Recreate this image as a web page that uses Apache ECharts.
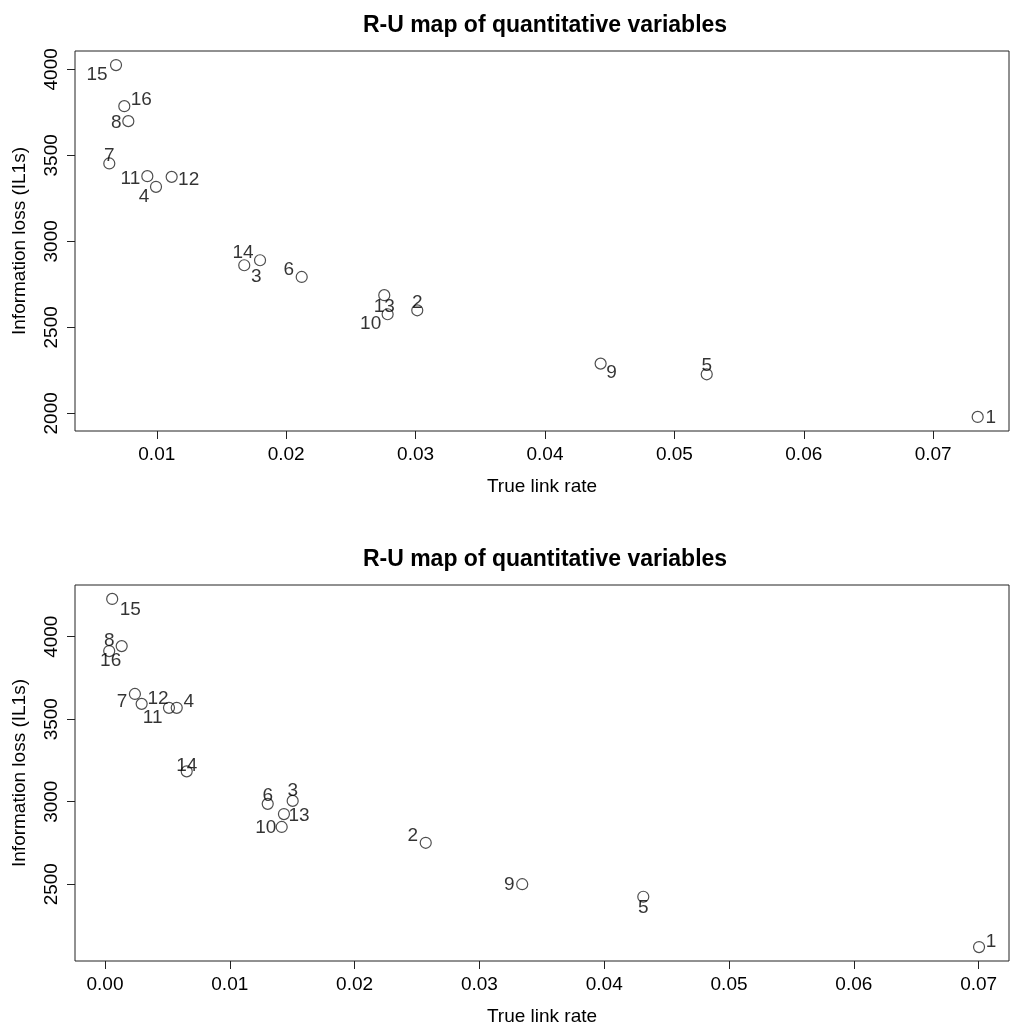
<!DOCTYPE html>
<html>
<head>
<meta charset="utf-8">
<script src="https://cdn.jsdelivr.net/npm/echarts@6/dist/echarts.min.js"></script>
<style>
  html, body { margin: 0; padding: 0; background: #ffffff; }
  #chart { width: 1010px; height: 1027px; }
</style>
</head>
<body>
<div id="chart"></div>
<script>
// Record identifiers (1..16), same order in both panels
const pointIds = ['1', '2', '3', '4', '5', '6', '7', '8', '9', '10', '11', '12', '13', '14', '15', '16'];

// Upper panel: true link rate and information loss per record
const upperRate = [0.07344, 0.03013, 0.01676, 0.00994, 0.05250, 0.02120, 0.00633, 0.00780,
                   0.04430, 0.02784, 0.00927, 0.01115, 0.02758, 0.01798, 0.00685, 0.00749];
const upperLoss = [1979, 2599, 2861, 3317, 2227, 2793, 3453, 3699,
                   2289, 2576, 3379, 3375, 2687, 2890, 4025, 3786];

// Lower panel
const lowerRate = [0.07003, 0.02570, 0.01504, 0.00575, 0.04313, 0.01304, 0.00240, 0.00034,
                   0.03343, 0.01416, 0.00294, 0.00513, 0.01434, 0.00655, 0.00058, 0.00134];
const lowerLoss = [2119, 2751, 3005, 3569, 2424, 2987, 3653, 3913,
                   2500, 2847, 3593, 3569, 2925, 3184, 4229, 3943];

// Tick values
const upperRateTicks = [0.01, 0.02, 0.03, 0.04, 0.05, 0.06, 0.07];
const upperLossTicks = [2000, 2500, 3000, 3500, 4000];
const lowerRateTicks = [0.00, 0.01, 0.02, 0.03, 0.04, 0.05, 0.06, 0.07];
const lowerLossTicks = [2500, 3000, 3500, 4000];

// Visible span of the rate axes (the plot frame runs to the page edge)
const upperRateSpan = [0.00368, 0.07586];
const lowerRateSpan = [-0.00240, 0.07243];

// Texts
const chartTitle = 'R-U map of quantitative variables';
const rateTitle = 'True link rate';
const lossTitle = 'Information loss (IL1s)';

// Where each point's number sits relative to its marker (px)
const upperLabelOffsets = {
  '1': [13, 1], '2': [0, -8], '3': [12, 12], '4': [-12, 10], '5': [0, -9], '6': [-13, -7],
  '7': [0, -8], '8': [-12, 2], '9': [11, 9], '10': [-17, 10], '11': [-17, 3], '12': [17, 3],
  '13': [0, 12], '14': [-17, -7], '15': [-19, 10], '16': [17, -6]
};
const lowerLabelOffsets = {
  '1': [12, -5], '2': [-13, -7], '3': [0, -10], '4': [12, -6], '5': [0, 11], '6': [0, -8],
  '7': [-13, 8], '8': [0, -10], '9': [-13, 1], '10': [-16, 1], '11': [11, 14], '12': [-11, -9],
  '13': [15, 2], '14': [0, -6], '15': [18, 11], '16': [-11, 15]
};

const FONT = '"Liberation Sans", Arial, Helvetica, sans-serif';
const INK = '#000';
const LINE = '#222';

// R-style axis limits: data range widened by 4% on each side
function padRange(values) {
  const lo = Math.min(...values), hi = Math.max(...values);
  const d = (hi - lo) * 0.04;
  return [lo - d, hi + d];
}

function makeXAxis(gridIndex, span, ticks) {
  return {
    type: 'value', gridIndex, min: span[0], max: span[1],
    axisLine: { show: false, onZero: false },
    splitLine: { show: false },
    axisTick: { show: true, inside: false, length: 8, customValues: ticks,
                lineStyle: { color: LINE, width: 1 } },
    axisLabel: { customValues: ticks, formatter: v => v.toFixed(2), fontSize: 19,
                 fontFamily: FONT, color: INK, margin: 14 },
    name: rateTitle, nameLocation: 'middle', nameGap: 46,
    nameTextStyle: { fontSize: 19, fontFamily: FONT, color: INK }
  };
}

function makeYAxis(gridIndex, values, ticks) {
  const [mn, mx] = padRange(values);
  return {
    type: 'value', gridIndex, min: mn, max: mx,
    axisLine: { show: false, onZero: false },
    splitLine: { show: false },
    axisTick: { show: true, inside: false, length: 8, customValues: ticks,
                lineStyle: { color: LINE, width: 1 } },
    axisLabel: { customValues: ticks, formatter: v => String(Math.round(v)), rotate: 90,
                 fontSize: 19, fontFamily: FONT, color: INK, margin: 14 },
    name: lossTitle, nameLocation: 'middle', nameGap: 46,
    nameTextStyle: { fontSize: 19, fontFamily: FONT, color: INK }
  };
}

function makeSeries(index, rates, losses, offsets) {
  return {
    type: 'scatter', xAxisIndex: index, yAxisIndex: index,
    symbol: 'circle', symbolSize: 11,
    itemStyle: { color: 'rgba(0,0,0,0)', borderColor: '#222', borderWidth: 1.2 },
    label: { show: true, position: 'inside', formatter: '{b}', fontSize: 19,
             fontFamily: FONT, color: INK },
    emphasis: { disabled: true },
    data: rates.map((r, i) => ({
      name: pointIds[i],
      value: [r, losses[i]],
      label: { offset: offsets[pointIds[i]] }
    }))
  };
}

const chart = echarts.init(document.getElementById('chart'), null, { renderer: 'canvas' });
chart.setOption({
  animation: false,
  backgroundColor: '#ffffff',
  title: [
    { text: chartTitle, left: 540, top: 9, textAlign: 'center',
      textStyle: { fontSize: 23, fontWeight: 'bold', fontFamily: FONT, color: INK } },
    { text: chartTitle, left: 540, top: 543, textAlign: 'center',
      textStyle: { fontSize: 23, fontWeight: 'bold', fontFamily: FONT, color: INK } }
  ],
  grid: [
    { left: 75, top: 51, width: 934, height: 380, show: true, borderColor: LINE, borderWidth: 1,
      backgroundColor: 'transparent' },
    { left: 75, top: 585, width: 934, height: 379, show: true, borderColor: LINE, borderWidth: 1,
      backgroundColor: 'transparent' }
  ],
  xAxis: [
    makeXAxis(0, upperRateSpan, upperRateTicks),
    makeXAxis(1, lowerRateSpan, lowerRateTicks)
  ],
  yAxis: [
    makeYAxis(0, upperLoss, upperLossTicks),
    makeYAxis(1, lowerLoss, lowerLossTicks)
  ],
  series: [
    makeSeries(0, upperRate, upperLoss, upperLabelOffsets),
    makeSeries(1, lowerRate, lowerLoss, lowerLabelOffsets)
  ]
});
</script>
</body>
</html>
